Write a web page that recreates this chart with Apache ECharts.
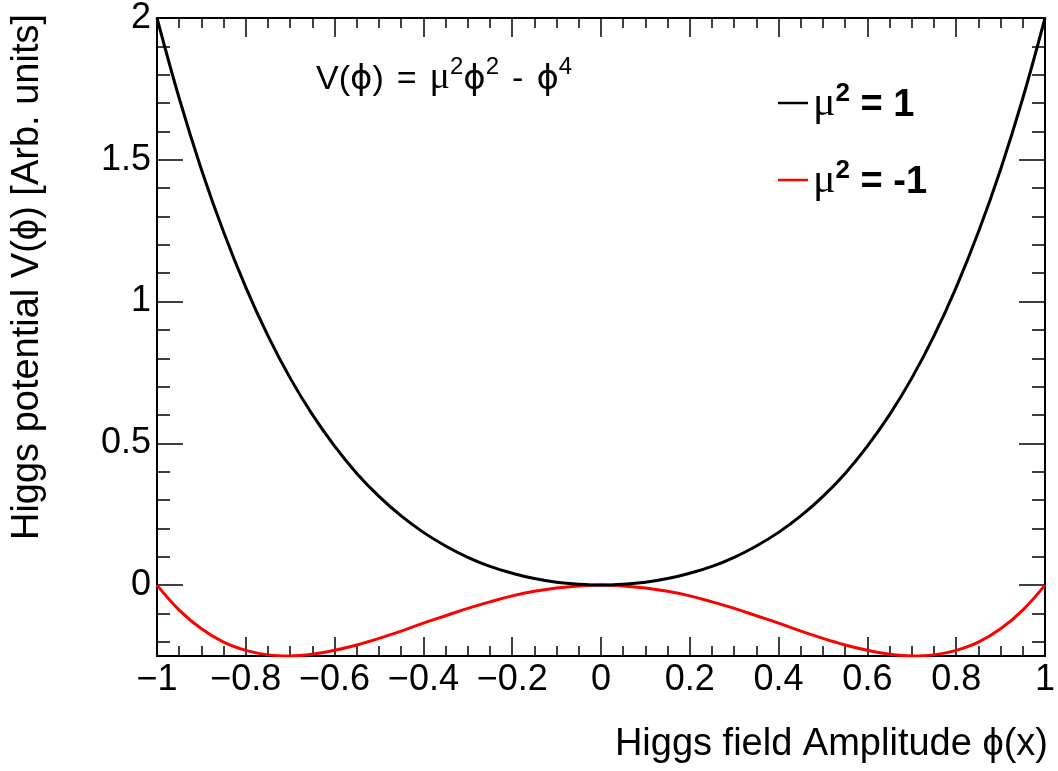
<!DOCTYPE html>
<html>
<head>
<meta charset="utf-8">
<script src="https://cdn.jsdelivr.net/npm/echarts@6/dist/echarts.min.js"></script>
<style>
html,body{margin:0;padding:0;background:#fff;}
#chart{width:1058px;height:771px;}
</style>
</head>
<body>
<div id="chart"></div>
<script>
// Field amplitude samples
const phi = [-1,-0.95,-0.9,-0.85,-0.8,-0.75,-0.7,-0.65,-0.6,-0.55,-0.5,-0.45,-0.4,-0.35,-0.3,-0.25,-0.2,-0.15,-0.1,-0.05,0,
             0.05,0.1,0.15,0.2,0.25,0.3,0.35,0.4,0.45,0.5,0.55,0.6,0.65,0.7,0.75,0.8,0.85,0.9,0.95,1];
// mu^2 = 1 curve (black)
const vPos = [2.000,1.717,1.466,1.245,1.050,0.879,0.730,0.601,0.490,0.394,0.313,0.244,0.186,0.138,0.098,0.066,0.042,0.023,0.010,0.003,0.000,
              0.003,0.010,0.023,0.042,0.066,0.098,0.138,0.186,0.244,0.313,0.394,0.490,0.601,0.730,0.879,1.050,1.245,1.466,1.717,2.000];
// mu^2 = -1 curve (red)
const vNeg = [0.000,-0.088,-0.154,-0.201,-0.230,-0.246,-0.250,-0.244,-0.230,-0.211,-0.188,-0.162,-0.134,-0.108,-0.082,-0.059,-0.038,-0.022,-0.010,-0.003,0.000,
              -0.003,-0.010,-0.022,-0.038,-0.059,-0.082,-0.108,-0.134,-0.162,-0.188,-0.211,-0.230,-0.244,-0.250,-0.246,-0.230,-0.201,-0.154,-0.088,0.000];
const seriesNames = ['μ² = 1', 'μ² = -1'];
const yMajor = [0, 0.5, 1, 1.5, 2];
const yMinor = [-0.2,-0.1,0.1,0.2,0.3,0.4,0.6,0.7,0.8,0.9,1.1,1.2,1.3,1.4,1.6,1.7,1.8,1.9];
const xTitle = 'Higgs field Amplitude ϕ(x)';
const yTitle = 'Higgs potential V(ϕ) [Arb. units]';

const FONT = '"Liberation Sans", Arial, Helvetica, sans-serif';
const SERIF = '"Liberation Serif", "DejaVu Serif", serif';
const PHI = '"DejaVu Sans", sans-serif';
const chart = echarts.init(document.getElementById('chart'), null, {renderer: 'canvas'});

const pts = (ys) => phi.map((x, i) => [x, ys[i]]);
const fmtNum = (v) => String(+(+v).toFixed(1)).replace('-', '\u2212');

const tickStyle = {color: '#000', width: 1.5};
const baseY = {
  type: 'value', min: -0.25, max: 2, splitLine: {show: false},
  axisLine: {show: true, onZero: false, lineStyle: {color: '#000', width: 2}}
};
const baseX = {
  type: 'value', min: -1, max: 1, interval: 0.2,
  axisLine: {show: true, onZero: false, lineStyle: {color: '#000', width: 2}},
  axisTick: {show: true, inside: true, length: 19, lineStyle: tickStyle},
  minorTick: {show: true, splitNumber: 4, length: 10, lineStyle: tickStyle},
  splitLine: {show: false}, minorSplitLine: {show: false}
};

chart.setOption({
  animation: false,
  backgroundColor: '#fff',
  textStyle: {fontFamily: FONT},
  grid: {left: 157, right: 10, top: 16, bottom: 115, containLabel: false},
  xAxis: [
    Object.assign({}, baseX, {
      position: 'bottom',
      axisLabel: {formatter: fmtNum, color: '#000', fontSize: 36, fontFamily: FONT, margin: 6}
    }),
    Object.assign({}, baseX, {position: 'top', axisLabel: {show: false}})
  ],
  yAxis: [
    Object.assign({}, baseY, {
      position: 'left',
      axisTick: {show: true, inside: true, length: 26, customValues: yMajor, lineStyle: tickStyle},
      axisLabel: {customValues: yMajor, formatter: fmtNum, color: '#000', fontSize: 36, fontFamily: FONT, margin: 6}
    }),
    Object.assign({}, baseY, {
      position: 'left',
      axisTick: {show: true, inside: true, length: 13, customValues: yMinor, lineStyle: tickStyle},
      axisLabel: {show: false}
    }),
    Object.assign({}, baseY, {
      position: 'right',
      axisTick: {show: true, inside: true, length: 26, customValues: yMajor, lineStyle: tickStyle},
      axisLabel: {show: false}
    }),
    Object.assign({}, baseY, {
      position: 'right',
      axisTick: {show: true, inside: true, length: 13, customValues: yMinor, lineStyle: tickStyle},
      axisLabel: {show: false}
    })
  ],
  legend: {
    data: seriesNames,
    orient: 'vertical',
    left: 773, top: 76,
    icon: 'rect', itemWidth: 30, itemHeight: 2.5,
    itemGap: 33,
    formatter: (name) => '{m|μ}{s|2}{b|' + name.slice(2) + '}',
    textStyle: {
      color: '#000',
      rich: {
        m: {fontFamily: SERIF, fontSize: 42, lineHeight: 44, verticalAlign: 'bottom', color: '#000'},
        s: {fontFamily: FONT, fontSize: 26, lineHeight: 26, verticalAlign: 'top', fontWeight: 'bold', color: '#000'},
        b: {fontFamily: FONT, fontSize: 38, lineHeight: 44, verticalAlign: 'bottom', fontWeight: 'bold', color: '#000'}
      }
    }
  },
  graphic: [
    {
      type: 'text', left: 316, top: 55,
      style: {
        text: '{n|V(}{p|ϕ}{n|)}{o|=}{m|μ}{s|2}{p|ϕ}{s|2}{o|-}{p|ϕ}{s|4}',
        font: '34px ' + FONT, fill: '#000',
        rich: {
          n: {fontSize: 34, fontFamily: FONT, lineHeight: 42, verticalAlign: 'bottom', fill: '#000'},
          o: {fontSize: 34, fontFamily: FONT, lineHeight: 42, verticalAlign: 'bottom', padding: [0, 13, 0, 13], fill: '#000'},
          p: {fontSize: 34, fontFamily: PHI, lineHeight: 42, verticalAlign: 'bottom', fill: '#000'},
          m: {fontSize: 38, fontFamily: SERIF, lineHeight: 42, verticalAlign: 'bottom', fill: '#000'},
          s: {fontSize: 24, fontFamily: FONT, lineHeight: 24, verticalAlign: 'top', fill: '#000'}
        }
      }
    },
    {
      type: 'text', x: 1048, y: 745,
      style: {text: xTitle, font: '38px ' + FONT, fill: '#000', align: 'right', verticalAlign: 'middle'}
    },
    {
      type: 'text', x: 28, y: 14, rotation: Math.PI / 2,
      style: {text: yTitle, font: '38px ' + FONT, fill: '#000', align: 'right', verticalAlign: 'middle'}
    }
  ],
  series: [
    {
      name: seriesNames[1], type: 'line', data: pts(vNeg), smooth: 0.4, showSymbol: false,
      color: '#ff0000', lineStyle: {color: '#ff0000', width: 3}
    },
    {
      name: seriesNames[0], type: 'line', data: pts(vPos), smooth: 0.4, showSymbol: false,
      color: '#000000', lineStyle: {color: '#000000', width: 3}
    }
  ]
});
</script>
</body>
</html>
